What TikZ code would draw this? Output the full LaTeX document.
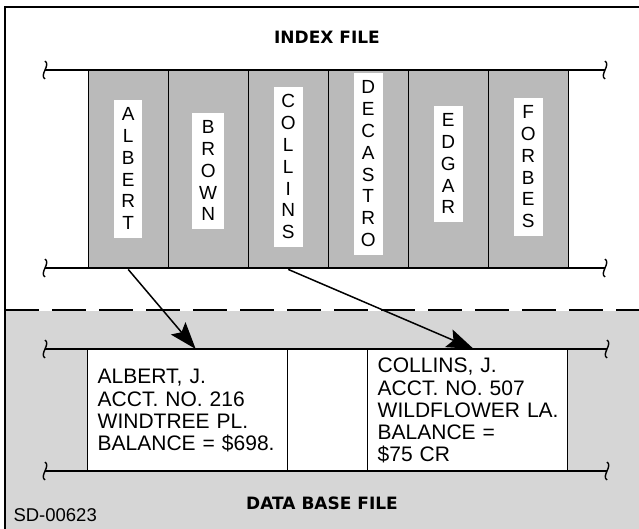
\documentclass[tikz,border=0pt]{standalone}
\usepackage{fontspec}
\setsansfont{Liberation Sans}
\newfontfamily\titlefont{DejaVu Sans}
\usepackage{tikz}
\usetikzlibrary{arrows.meta, positioning, calc}
\definecolor{DotGray}{gray}{0.73}
\definecolor{BaseGray}{gray}{0.84}

\tikzset{
  breakmark/.pic={\draw[line width=1.4pt] (0,-9) .. controls (6,-5) and (-6,5) .. (0,9);}
}

\begin{document}
\begin{tikzpicture}[x=1pt, y=-1pt, font=\sffamily,
    column/.style={draw, line width=1.4pt, fill=DotGray, anchor=north west,
      minimum width=80pt, minimum height=198pt, inner sep=0pt},
    tag/.style={fill=white, align=center, inner xsep=7pt, inner ysep=8pt,
      font=\sffamily\fontsize{19}{21.8}\selectfont},
    record/.style={draw, line width=1.4pt, fill=white, anchor=north west,
      minimum width=200pt, minimum height=122pt, text width=180pt,
      inner xsep=10pt, inner ysep=4pt, align=left,
      font=\sffamily\fontsize{21}{22.3}\selectfont},
    gap/.style={draw, line width=1.4pt, fill=white, anchor=north west,
      minimum width=80pt, minimum height=122pt, inner sep=0pt},
    strip/.style={line width=1.6pt},
    title/.style={font=\titlefont\bfseries\fontsize{17}{20}\selectfont},
    link/.style={line width=1.5pt, -{Stealth[length=27pt, width=19pt, inset=5pt]}}]
    \useasboundingbox (0,0) rectangle (639,529);

    % data base area (shaded) and outer frame
    \fill[BaseGray] (5,311) rectangle (639,529);
    \draw[line width=2pt, dash pattern=on 34pt off 13pt] (5,310) -- (639,310);
    \draw[line width=2.2pt] (639,7) -- (5,7) -- (5,529);

    % index file
    \node[title] (indextitle) at (327,37) {INDEX FILE};
    \foreach \nm/\txt/\dy [count=\i from 0] in {albert/{A\\L\\B\\E\\R\\T}/1,
        brown/{B\\R\\O\\W\\N}/-1, collins/{C\\O\\L\\L\\I\\N\\S}/3,
        decastro/{D\\E\\C\\A\\S\\T\\R\\O}/6, edgar/{E\\D\\G\\A\\R}/6,
        forbes/{F\\O\\R\\B\\E\\S}/3}
    {
      \node[column] (\nm) at (87.5+80*\i, 70) {};
      \node[tag] (\nm-tag) at ([yshift=\dy pt]\nm.center) {\txt};
    }
    \draw[strip] (45,70) -- (605,70);
    \draw[strip] (45,268) -- (605,268);
    \foreach \y in {70, 268} {
      \pic at (45,\y) {breakmark};
      \pic at (605,\y) {breakmark};
    }

    % data base file
    \node[record] (rec1) at (87,349) {ALBERT, J.\\ACCT. NO. 216\\WINDTREE PL.\\BALANCE = \$698.};
    \node[gap] (midrec) at (287,349) {};
    \node[record] (rec2) at (367,349) {COLLINS, J.\\ACCT. NO. 507\\WILDFLOWER~LA.\\BALANCE =\\\$75 CR};
    \draw[strip] (45,349) -- (607,349);
    \draw[strip] (45,471) -- (607,471);
    \foreach \y in {349, 471} {
      \pic at (45,\y) {breakmark};
      \pic at (607,\y) {breakmark};
    }
    \node[title] (basetitle) at (322,503) {DATA BASE FILE};
    \node[anchor=west, font=\sffamily\fontsize{18.5}{20}\selectfont] (drawno) at (10,515) {SD-00623};

    % pointers from index entries to records
    \draw[link] (albert.south) -- ([xshift=8pt]rec1.north);
    \draw[link] (collins.south) -- ([xshift=6pt]rec2.north);
\end{tikzpicture}
\end{document}
